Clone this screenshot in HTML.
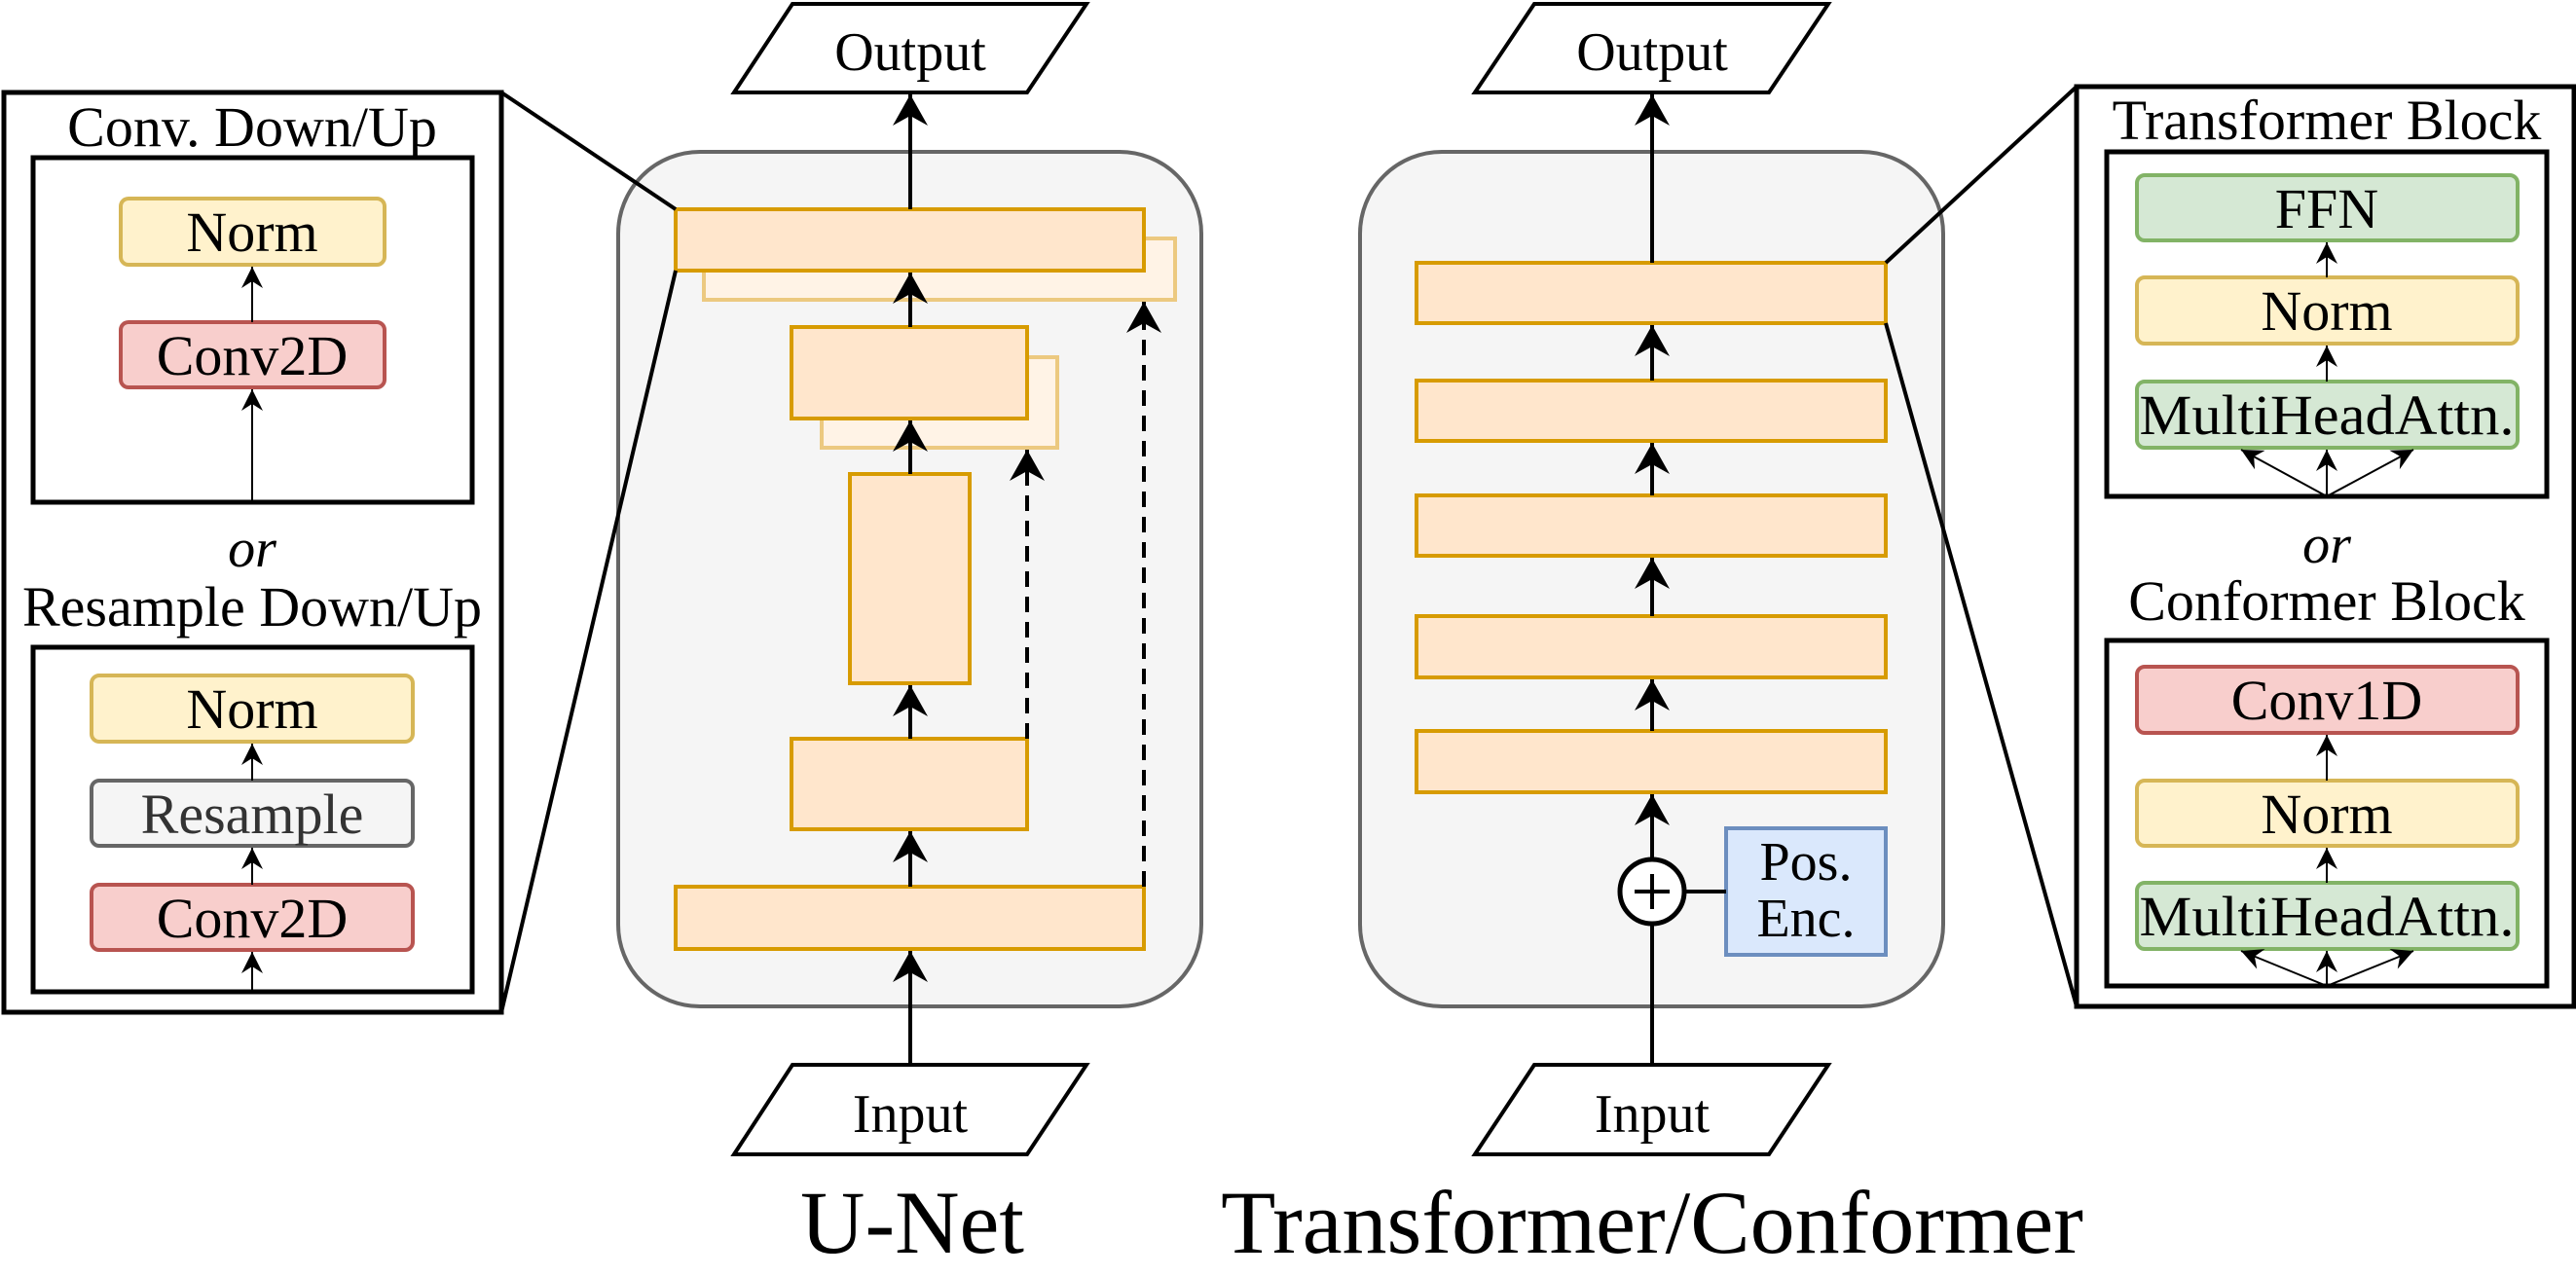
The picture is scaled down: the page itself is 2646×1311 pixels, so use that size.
<!DOCTYPE html>
<html><head><meta charset="utf-8"><style>html,body{margin:0;padding:0;background:#fff}svg{display:block}text{font-family:"Liberation Serif",serif}</style></head>
<body>
<svg width="2646" height="1311" viewBox="0 0 2646 1311" xmlns="http://www.w3.org/2000/svg">
<defs>
<marker id="big" markerUnits="userSpaceOnUse" markerWidth="50" markerHeight="50" viewBox="-40 -25 50 50" refX="0" refY="0" orient="auto"><path d="M0,0 L-32,-18 L-22,0 L-32,18 Z" fill="#000"/></marker>
<marker id="sm" markerUnits="userSpaceOnUse" markerWidth="36" markerHeight="36" viewBox="-28 -18 36 36" refX="0" refY="0" orient="auto"><path d="M0,0 L-22,-11 L-15,0 L-22,11 Z" fill="#000"/></marker>
</defs>
<!-- LEFT PANEL -->
<rect x="4" y="95" width="511" height="945" fill="#fff" stroke="#000" stroke-width="5"/>
<text x="259" y="150" font-size="58" text-anchor="middle">Conv. Down/Up</text>
<rect x="34" y="162" width="451" height="354" fill="none" stroke="#000" stroke-width="5"/>
<rect x="124" y="204" width="271" height="68" rx="8" fill="#fff2cc" stroke="#d6b656" stroke-width="4"/>
<text x="259" y="258" font-size="58" text-anchor="middle">Norm</text>
<rect x="124" y="331" width="271" height="67" rx="8" fill="#f8cecc" stroke="#b85450" stroke-width="4"/>
<text x="259" y="385" font-size="58" text-anchor="middle">Conv2D</text>
<g stroke="#000" stroke-width="2">
<line x1="259" y1="516" x2="259" y2="400" marker-end="url(#sm)"/>
<line x1="259" y1="331" x2="259" y2="274" marker-end="url(#sm)"/>
</g>
<text x="259" y="582" font-size="56" font-style="italic" text-anchor="middle">or</text>
<text x="259" y="643" font-size="58" text-anchor="middle">Resample Down/Up</text>
<rect x="34" y="665" width="451" height="354" fill="none" stroke="#000" stroke-width="5"/>
<rect x="94" y="694" width="330" height="68" rx="8" fill="#fff2cc" stroke="#d6b656" stroke-width="4"/>
<text x="259" y="748" font-size="58" text-anchor="middle">Norm</text>
<rect x="94" y="802" width="330" height="67" rx="8" fill="#f5f5f5" stroke="#666" stroke-width="4"/>
<text x="259" y="856" font-size="58" text-anchor="middle" fill="#333">Resample</text>
<rect x="94" y="909" width="330" height="67" rx="8" fill="#f8cecc" stroke="#b85450" stroke-width="4"/>
<text x="259" y="963" font-size="58" text-anchor="middle">Conv2D</text>
<g stroke="#000" stroke-width="2">
<line x1="259" y1="1019" x2="259" y2="978" marker-end="url(#sm)"/>
<line x1="259" y1="909" x2="259" y2="871" marker-end="url(#sm)"/>
<line x1="259" y1="802" x2="259" y2="764" marker-end="url(#sm)"/>
</g>
<!-- UNET -->
<rect x="635" y="156" width="599" height="878" rx="84" fill="#f5f5f5" stroke="#666" stroke-width="4"/>
<polygon points="754,95 814,4 1116,4 1055,95" fill="#fff" stroke="#000" stroke-width="4"/>
<text x="935" y="72" font-size="56" text-anchor="middle">Output</text>
<polygon points="754,1186 814,1094 1116,1094 1055,1186" fill="#fff" stroke="#000" stroke-width="4"/>
<text x="935" y="1163" font-size="56" text-anchor="middle">Input</text>
<text x="937" y="1287" font-size="92" text-anchor="middle">U-Net</text>
<g stroke-width="4">
<rect x="723" y="245" width="484" height="63" fill="#fff3e6" stroke="#ecc980"/>
<rect x="694" y="215" width="481" height="63" fill="#ffe6cc" stroke="#d79b00"/>
<rect x="844" y="367" width="242" height="93" fill="#fff3e6" stroke="#ecc980"/>
<rect x="813" y="336" width="242" height="94" fill="#ffe6cc" stroke="#d79b00"/>
<rect x="873" y="487" width="123" height="215" fill="#ffe6cc" stroke="#d79b00"/>
<rect x="813" y="759" width="242" height="93" fill="#ffe6cc" stroke="#d79b00"/>
<rect x="694" y="911" width="481" height="64" fill="#ffe6cc" stroke="#d79b00"/>
</g>
<g stroke="#000" stroke-width="4">
<line x1="935" y1="1094" x2="935" y2="977" marker-end="url(#big)"/>
<line x1="935" y1="911" x2="935" y2="854" marker-end="url(#big)"/>
<line x1="935" y1="759" x2="935" y2="704" marker-end="url(#big)"/>
<line x1="935" y1="487" x2="935" y2="432" marker-end="url(#big)"/>
<line x1="935" y1="336" x2="935" y2="280" marker-end="url(#big)"/>
<line x1="935" y1="215" x2="935" y2="97" marker-end="url(#big)"/>
<line x1="1055" y1="759" x2="1055" y2="462" stroke-dasharray="16 10" marker-end="url(#big)"/>
<line x1="1175" y1="911" x2="1175" y2="310" stroke-dasharray="16 10" marker-end="url(#big)"/>
</g>
<!-- TRANSFORMER -->
<rect x="1397" y="156" width="599" height="878" rx="84" fill="#f5f5f5" stroke="#666" stroke-width="4"/>
<polygon points="1515,95 1576,4 1878,4 1817,95" fill="#fff" stroke="#000" stroke-width="4"/>
<text x="1697" y="72" font-size="56" text-anchor="middle">Output</text>
<polygon points="1515,1186 1576,1094 1878,1094 1817,1186" fill="#fff" stroke="#000" stroke-width="4"/>
<text x="1697" y="1163" font-size="56" text-anchor="middle">Input</text>
<text x="1697" y="1287" font-size="92" text-anchor="middle">Transformer/Conformer</text>
<g fill="#ffe6cc" stroke="#d79b00" stroke-width="4">
<rect x="1455" y="270" width="482" height="62"/>
<rect x="1455" y="391" width="482" height="62"/>
<rect x="1455" y="509" width="482" height="62"/>
<rect x="1455" y="633" width="482" height="63"/>
<rect x="1455" y="751" width="482" height="63"/>
</g>
<rect x="1773" y="851" width="164" height="130" fill="#dae8fc" stroke="#6c8ebf" stroke-width="4"/>
<text x="1855" y="904" font-size="56" text-anchor="middle">Pos.</text>
<text x="1855" y="962" font-size="56" text-anchor="middle">Enc.</text>
<g stroke="#000" stroke-width="4">
<line x1="1697" y1="1094" x2="1697" y2="950"/>
<line x1="1731" y1="916" x2="1773" y2="916"/>
<line x1="1697" y1="882" x2="1697" y2="816" marker-end="url(#big)"/>
<line x1="1697" y1="751" x2="1697" y2="698" marker-end="url(#big)"/>
<line x1="1697" y1="633" x2="1697" y2="573" marker-end="url(#big)"/>
<line x1="1697" y1="509" x2="1697" y2="455" marker-end="url(#big)"/>
<line x1="1697" y1="391" x2="1697" y2="334" marker-end="url(#big)"/>
<line x1="1697" y1="270" x2="1697" y2="97" marker-end="url(#big)"/>
</g>
<circle cx="1697" cy="916" r="33" fill="#fff" stroke="#000" stroke-width="5"/>
<line x1="1679" y1="916" x2="1715" y2="916" stroke="#000" stroke-width="4"/>
<line x1="1697" y1="898" x2="1697" y2="934" stroke="#000" stroke-width="4"/>
<!-- RIGHT PANEL -->
<rect x="2133" y="89" width="511" height="945" fill="#fff" stroke="#000" stroke-width="5"/>
<text x="2390" y="143" font-size="58" text-anchor="middle">Transformer Block</text>
<rect x="2164" y="156" width="452" height="354" fill="none" stroke="#000" stroke-width="5"/>
<rect x="2195" y="180" width="391" height="67" rx="8" fill="#d5e8d4" stroke="#82b366" stroke-width="4"/>
<text x="2390" y="234" font-size="58" text-anchor="middle">FFN</text>
<rect x="2195" y="285" width="391" height="68" rx="8" fill="#fff2cc" stroke="#d6b656" stroke-width="4"/>
<text x="2390" y="339" font-size="58" text-anchor="middle">Norm</text>
<rect x="2195" y="392" width="391" height="68" rx="8" fill="#d5e8d4" stroke="#82b366" stroke-width="4"/>
<text x="2390" y="446" font-size="58" text-anchor="middle" textLength="385" lengthAdjust="spacingAndGlyphs">MultiHeadAttn.</text>
<g stroke="#000" stroke-width="2">
<line x1="2390" y1="392" x2="2390" y2="355" marker-end="url(#sm)"/>
<line x1="2390" y1="285" x2="2390" y2="249" marker-end="url(#sm)"/>
<line x1="2390" y1="510" x2="2390" y2="462" marker-end="url(#sm)"/>
<line x1="2390" y1="510" x2="2302" y2="462" marker-end="url(#sm)"/>
<line x1="2390" y1="510" x2="2479" y2="462" marker-end="url(#sm)"/>
</g>
<text x="2390" y="578" font-size="56" font-style="italic" text-anchor="middle">or</text>
<text x="2390" y="637" font-size="58" text-anchor="middle">Conformer Block</text>
<rect x="2164" y="658" width="452" height="355" fill="none" stroke="#000" stroke-width="5"/>
<rect x="2195" y="685" width="391" height="68" rx="8" fill="#f8cecc" stroke="#b85450" stroke-width="4"/>
<text x="2390" y="739" font-size="58" text-anchor="middle">Conv1D</text>
<rect x="2195" y="802" width="391" height="67" rx="8" fill="#fff2cc" stroke="#d6b656" stroke-width="4"/>
<text x="2390" y="856" font-size="58" text-anchor="middle">Norm</text>
<rect x="2195" y="907" width="391" height="68" rx="8" fill="#d5e8d4" stroke="#82b366" stroke-width="4"/>
<text x="2390" y="961" font-size="58" text-anchor="middle" textLength="385" lengthAdjust="spacingAndGlyphs">MultiHeadAttn.</text>
<g stroke="#000" stroke-width="2">
<line x1="2390" y1="907" x2="2390" y2="871" marker-end="url(#sm)"/>
<line x1="2390" y1="802" x2="2390" y2="755" marker-end="url(#sm)"/>
<line x1="2390" y1="1013" x2="2390" y2="977" marker-end="url(#sm)"/>
<line x1="2390" y1="1013" x2="2302" y2="977" marker-end="url(#sm)"/>
<line x1="2390" y1="1013" x2="2479" y2="977" marker-end="url(#sm)"/>
</g>
<!-- zoom lines on top -->
<g fill="none" stroke="#000" stroke-width="4">
<line x1="515" y1="95" x2="694" y2="215"/><line x1="515" y1="1040" x2="694" y2="278"/>
<line x1="1937" y1="270" x2="2133" y2="89"/><line x1="1937" y1="332" x2="2133" y2="1034"/>
</g>
</svg>
</body></html>
